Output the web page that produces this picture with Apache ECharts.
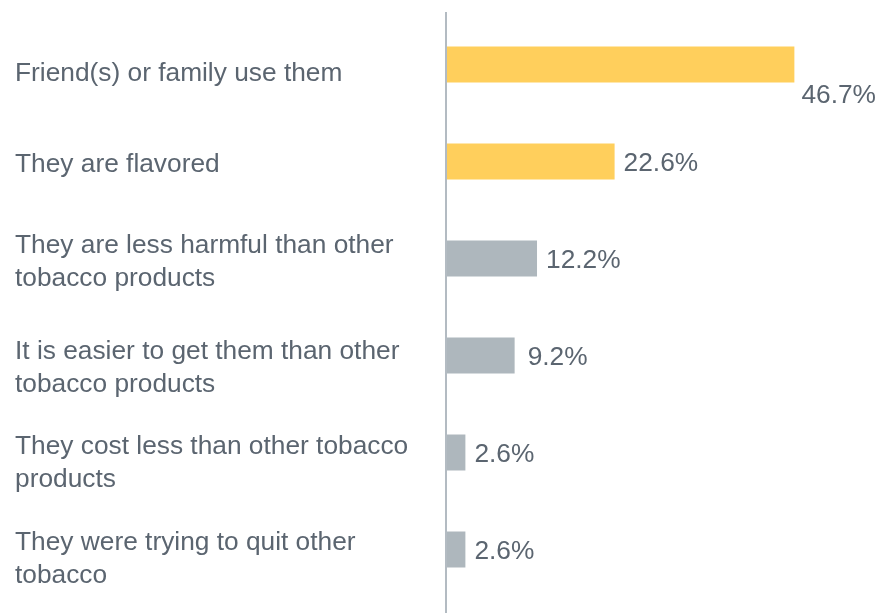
<!DOCTYPE html>
<html>
<head>
<meta charset="utf-8">
<script src="https://cdn.jsdelivr.net/npm/echarts@6/dist/echarts.min.js"></script>
<style>
  html, body { margin: 0; padding: 0; background: #ffffff; }
  #chart { width: 881px; height: 613px; }
</style>
</head>
<body>
<div id="chart"></div>
<script>
// Reasons for use, top to bottom
const reasons = [
  'Friend(s) or family use them',
  'They are flavored',
  'They are less harmful than other\ntobacco products',
  'It is easier to get them than other\ntobacco products',
  'They cost less than other tobacco\nproducts',
  'They were trying to quit other\ntobacco'
];
// Percent of respondents
const percents = [46.7, 22.6, 12.2, 9.2, 2.6, 2.6];
// The two leading reasons are emphasised
const emphasisCount = 2;

const TEXT = '#5b6570';
const YELLOW = '#ffcf5c';
const GRAY = '#aeb7bd';
const FONT = '"Liberation Sans", Arial, Helvetica, sans-serif';
const FONT_SIZE = 26.3;
const LINE_H = 33;

const GRID_LEFT = 446;

// Downward nudge (px) of each category label relative to its bar
const labelNudge = [9, 3, 3.5, 13, 11, 10];

const chart = echarts.init(document.getElementById('chart'), null, { renderer: 'canvas' });

const barData = percents.map((v, i) => {
  const item = {
    value: v,
    itemStyle: { color: i < emphasisCount ? YELLOW : GRAY }
  };
  if (i === 0) {
    // Longest bar: value sits below its right end
    item.label = {
      position: ['100%', '100%'],
      align: 'left',
      verticalAlign: 'top',
      offset: [7, 0]
    };
  } else if (i === 3) {
    item.label = { distance: 13 };
  }
  return item;
});

// Build rich-text styles so each label can be nudged by uneven line heights
const rich = {};
function richStyle(name, lh) {
  rich[name] = { color: TEXT, fontFamily: FONT, fontSize: FONT_SIZE, lineHeight: lh };
  return name;
}

function categoryLabel(value, idx) {
  const d = labelNudge[idx] || 0;
  const lines = value.split('\n');
  if (lines.length === 1) {
    // single line: a spacer line above pushes the text down by d
    const sp = richStyle('sp' + idx, 2 * d);
    const t = richStyle('t' + idx, LINE_H);
    return '{' + sp + '| }\n{' + t + '|' + lines[0] + '}';
  }
  const a = richStyle('a' + idx, LINE_H + 2 * d);
  const b = richStyle('b' + idx, LINE_H - 2 * d);
  return '{' + a + '|' + lines[0] + '}\n{' + b + '|' + lines[1] + '}';
}
reasons.forEach((r, i) => categoryLabel(r, i));

chart.setOption({
  animation: false,
  backgroundColor: '#ffffff',
  grid: { left: GRID_LEFT, right: 62, top: 16, bottom: 15 },
  xAxis: {
    type: 'value',
    min: 0,
    max: 50,
    show: false
  },
  yAxis: {
    type: 'category',
    inverse: true,
    data: reasons,
    axisLine: { show: false },
    axisTick: { show: false },
    splitLine: { show: false },
    axisLabel: {
      align: 'left',
      margin: GRID_LEFT - 15,
      color: TEXT,
      fontFamily: FONT,
      fontSize: FONT_SIZE,
      lineHeight: LINE_H,
      formatter: categoryLabel,
      rich: rich
    }
  },
  series: [{
    type: 'bar',
    data: barData,
    barWidth: 36,
    label: {
      show: true,
      position: 'right',
      distance: 9,
      offset: [0, 2],
      color: TEXT,
      fontFamily: FONT,
      fontSize: FONT_SIZE,
      formatter: p => p.value.toFixed(1) + '%'
    }
  }]
});

// Vertical baseline running the full height of the plot
chart.setOption({
  graphic: [{
    type: 'line',
    shape: { x1: GRID_LEFT, y1: 12, x2: GRID_LEFT, y2: 613 },
    style: { stroke: '#b3bbc2', lineWidth: 2 },
    z: 10
  }]
});
</script>
</body>
</html>
